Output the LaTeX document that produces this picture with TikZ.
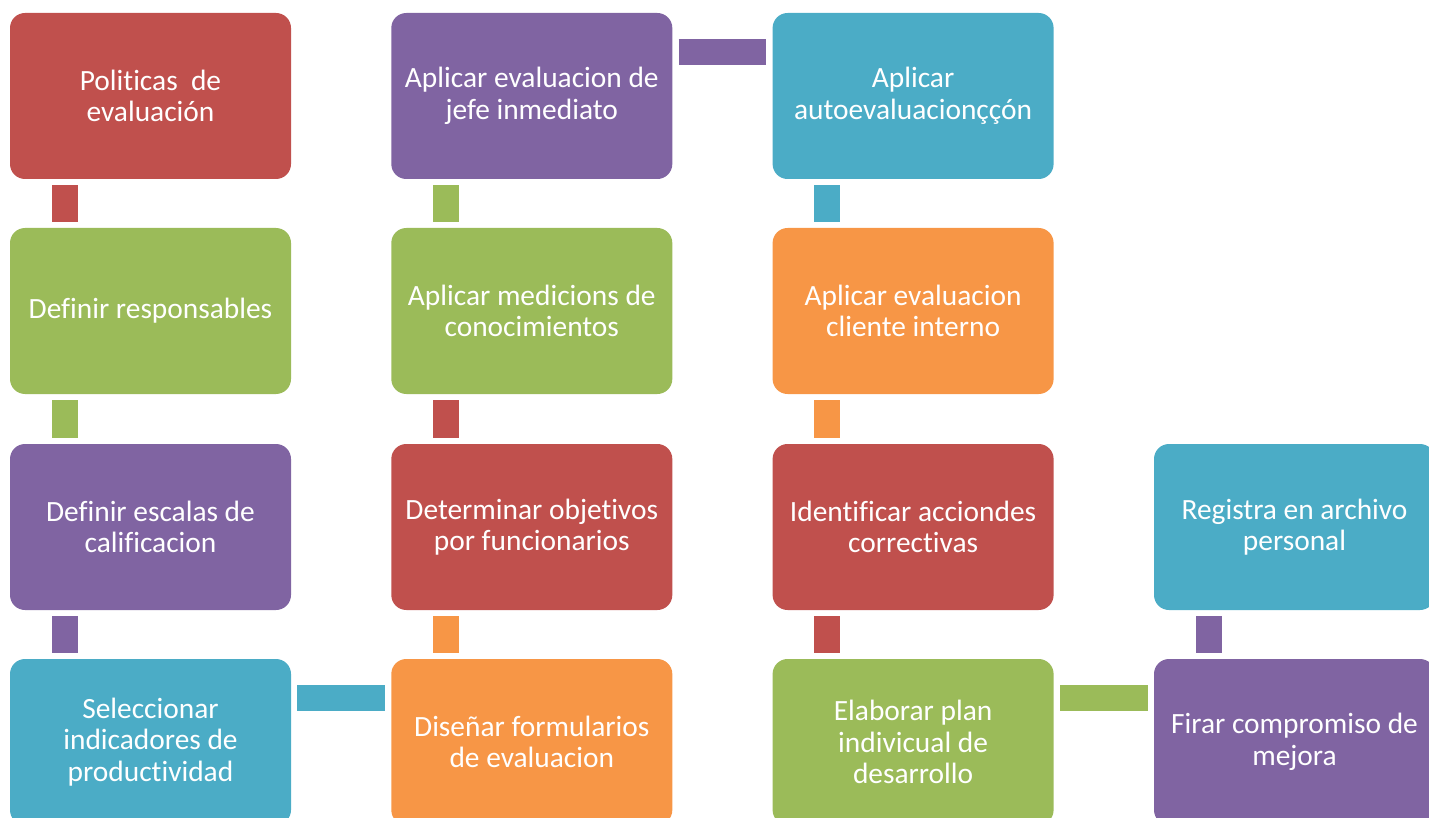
\documentclass[tikz,border=0pt]{standalone}
\usepackage{fontspec}
\setmainfont{Carlito}[Ligatures=CommonOff]
\usepackage{tikz}
\usetikzlibrary{
  positioning,
  calc
}
\definecolor{stepred}{HTML}{C0504D}
\definecolor{stepgreen}{HTML}{9BBB59}
\definecolor{steppurple}{HTML}{8064A2}
\definecolor{stepblue}{HTML}{4BACC6}
\definecolor{steporange}{HTML}{F79646}
\tikzset{
  stepbox/.style={
    fill=#1,
    draw=none,
    rounded corners=7.5pt,
    minimum width=140.5pt,
    minimum height=83pt,
    inner sep=2pt,
    align=center,
    text=white,
    font=\fontsize{14.7pt}{15.8pt}\selectfont,
  },
  link/.style={
    draw=#1,
    line width=13pt,
    shorten <=3pt,
    shorten >=3pt,
  },
}

\begin{document}
\begin{tikzpicture}[
  x=0.5pt, y=0.5pt,
]
  \useasboundingbox (0,0) rectangle (1429,-818);
  \clip (0,0) rectangle (1429,-818);

  % Column 1 -- policies down to indicators
  \node[stepbox=stepred]    (pol)   at (150.5,-96)  {Politicas\ \ de\\evaluación};
  \node[stepbox=stepgreen]  (resp)  at (150.5,-311) {Definir responsables};
  \node[stepbox=steppurple] (escal) at (150.5,-527) {Definir escalas de\\calificacion};
  \node[stepbox=stepblue]   (selec) at (150.5,-742) {Seleccionar\\indicadores de\\productividad};

  % Column 2 -- forms up to supervisor review
  \node[stepbox=steporange] (dise)  at (531.8,-742) {Diseñar formularios\\de evaluacion};
  \node[stepbox=stepred]    (objet) at (531.8,-527) {Determinar objetivos\\por funcionarios};
  \node[stepbox=stepgreen]  (medic) at (531.8,-311) {Aplicar medicions de\\conocimientos};
  \node[stepbox=steppurple] (jefe)  at (531.8,-96)  {Aplicar evaluacion de\\jefe inmediato};

  % Column 3 -- self review down to development plan
  \node[stepbox=stepblue]   (autoev)   at (913.1,-96)  {Aplicar\\autoevaluacionççón};
  \node[stepbox=steporange] (cliente)  at (913.1,-311) {Aplicar evaluacion\\cliente interno};
  \node[stepbox=stepred]    (acciones) at (913.1,-527) {Identificar acciondes\\correctivas};
  \node[stepbox=stepgreen]  (plan)     at (913.1,-742) {Elaborar plan\\indivicual de\\desarrollo};

  % Column 4 -- commitment and record
  \node[stepbox=steppurple] (compro) at (1294.5,-742) {Firar compromiso de\\mejora};
  \node[stepbox=stepblue]   (regis)  at (1294.5,-527) {Registra en archivo\\personal};

  % Links, coloured after the step they leave
  \draw[link=stepred]    ([xshift=27.5pt]pol.south west)   -- ([xshift=27.5pt]resp.north west);
  \draw[link=stepgreen]  ([xshift=27.5pt]resp.south west)  -- ([xshift=27.5pt]escal.north west);
  \draw[link=steppurple] ([xshift=27.5pt]escal.south west) -- ([xshift=27.5pt]selec.north west);
  \draw[link=stepblue]   ([yshift=-19.5pt]selec.north east) -- ([yshift=-19.5pt]dise.north west);
  \draw[link=steporange] ([xshift=27.5pt]dise.north west)  -- ([xshift=27.5pt]objet.south west);
  \draw[link=stepred]    ([xshift=27.5pt]objet.north west) -- ([xshift=27.5pt]medic.south west);
  \draw[link=stepgreen]  ([xshift=27.5pt]medic.north west) -- ([xshift=27.5pt]jefe.south west);
  \draw[link=steppurple] ([yshift=-19.5pt]jefe.north east) -- ([yshift=-19.5pt]autoev.north west);
  \draw[link=stepblue]   ([xshift=27.5pt]autoev.south west)   -- ([xshift=27.5pt]cliente.north west);
  \draw[link=steporange] ([xshift=27.5pt]cliente.south west)  -- ([xshift=27.5pt]acciones.north west);
  \draw[link=stepred]    ([xshift=27.5pt]acciones.south west) -- ([xshift=27.5pt]plan.north west);
  \draw[link=stepgreen]  ([yshift=-19.5pt]plan.north east) -- ([yshift=-19.5pt]compro.north west);
  \draw[link=steppurple] ([xshift=27.5pt]compro.north west) -- ([xshift=27.5pt]regis.south west);
\end{tikzpicture}
\end{document}
